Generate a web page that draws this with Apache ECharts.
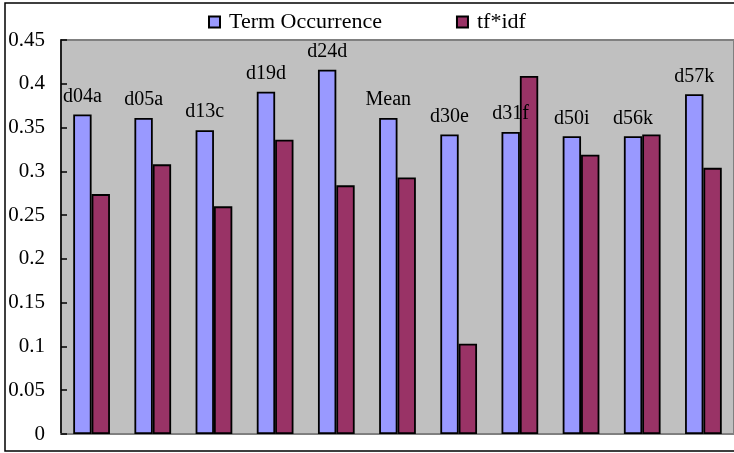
<!DOCTYPE html>
<html>
<head>
<meta charset="utf-8">
<script src="https://cdn.jsdelivr.net/npm/echarts@6/dist/echarts.min.js"></script>
<style>html,body{margin:0;padding:0;background:#fff}#c{width:734px;height:453px}</style>
</head>
<body>
<div id="c"></div>
<script>
const categories = ['d04a','d05a','d13c','d19d','d24d','Mean','d30e','d31f','d50i','d56k','d57k'];
const termOccurrence = [0.365,0.361,0.347,0.391,0.416,0.361,0.342,0.345,0.340,0.340,0.388];
const tfidf = [0.274,0.308,0.260,0.336,0.284,0.293,0.103,0.409,0.319,0.342,0.304];
const seriesNames = ['Term Occurrence','tf*idf'];

const font = 'Liberation Serif';
const chart = echarts.init(document.getElementById('c'), null, {renderer:'canvas'});
chart.setOption({
  animation:false,
  backgroundColor:'#fff',
  graphic:[{type:'rect',shape:{x:5,y:3,width:760,height:448},style:{fill:'none',stroke:'#000',lineWidth:1.5},z:-1}],
  legend:{
    left:203, top:6, itemGap:74, itemWidth:11, itemHeight:11,
    icon:'rect',
    textStyle:{fontFamily:font,fontSize:22,color:'#000',padding:[0,0,0,4]},
    data:seriesNames
  },
  grid:{left:61,top:40,right:-9,bottom:19,show:true,backgroundColor:'#C0C0C0',borderColor:'#808080',borderWidth:2},
  xAxis:{type:'category',data:categories,
    axisLine:{show:true,lineStyle:{color:'#808080',width:2}},
    axisTick:{show:false},axisLabel:{show:false},splitLine:{show:false}},
  yAxis:{type:'value',min:0,max:0.45,interval:0.05,
    axisLine:{show:true,lineStyle:{color:'#000',width:1.5}},
    axisTick:{show:true,inside:true,length:6,lineStyle:{color:'#000',width:1.5}},
    splitLine:{show:false},
    axisLabel:{fontFamily:font,fontSize:21,color:'#000',margin:16,formatter:v=>String(+v.toFixed(2))}},
  series:[
    {name:seriesNames[0],type:'bar',data:termOccurrence,barGap:'0%',barCategoryGap:'40%',
     itemStyle:{color:'#9999FF',borderColor:'#000',borderWidth:1.8},
     label:{show:true,position:'top',distance:8,formatter:'{b}',fontFamily:font,fontSize:20,color:'#000'}},
    {name:seriesNames[1],type:'bar',data:tfidf,barGap:'0%',barCategoryGap:'40%',
     itemStyle:{color:'#993366',borderColor:'#000',borderWidth:1.8}}
  ]
});
</script>
</body>
</html>
